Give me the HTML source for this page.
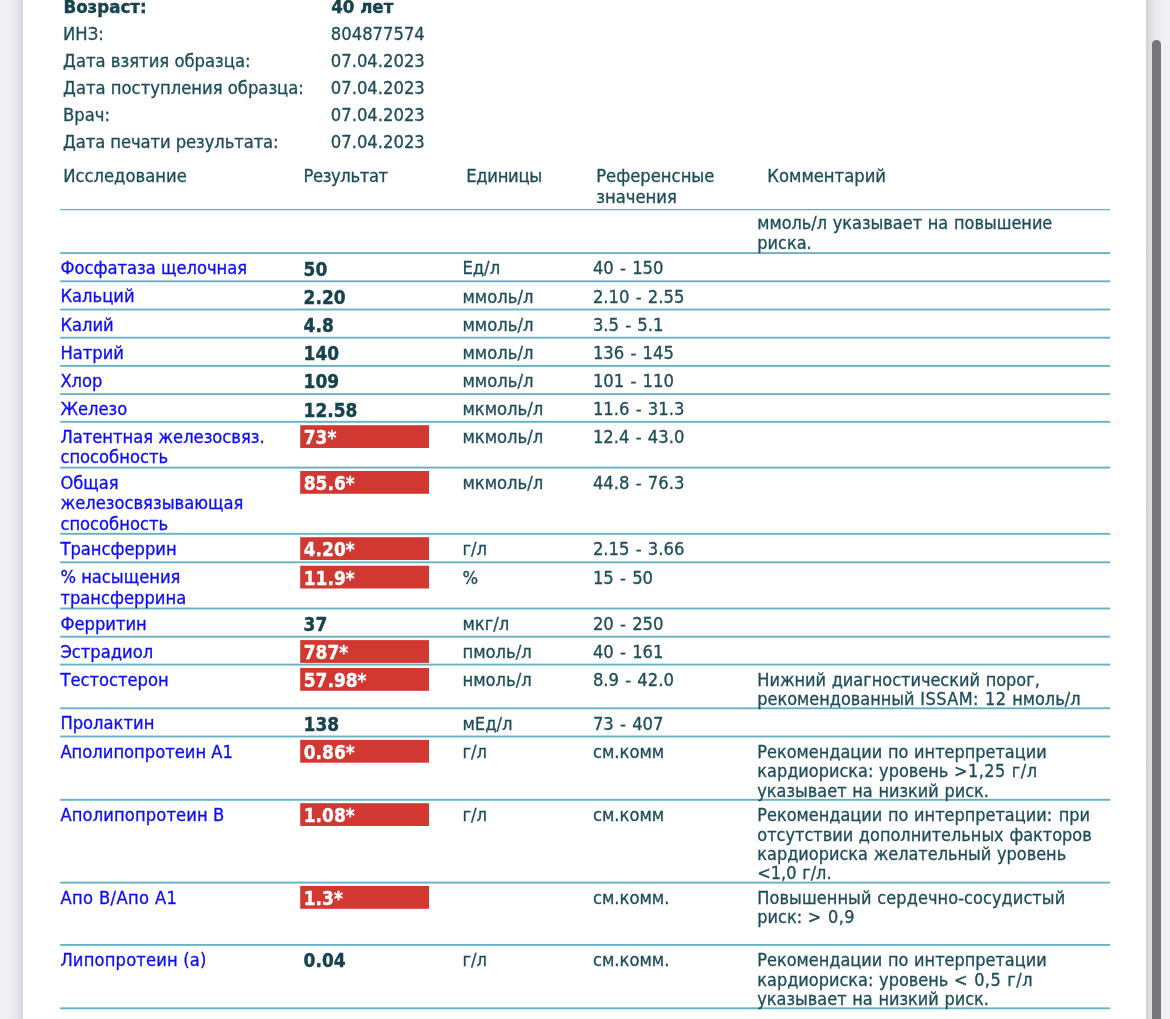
<!DOCTYPE html>
<html lang="ru"><head><meta charset="utf-8"><title>Результаты анализов</title>
<style>
html,body{margin:0;padding:0}
body{width:1170px;height:1019px;overflow:hidden;position:relative;background:#efeff4;
font-family:"DejaVu Sans Condensed","DejaVu Sans","Liberation Sans",sans-serif;font-stretch:condensed;font-size:18.25px;color:#1d4d59}
#shl{position:absolute;left:0;top:0;width:23px;height:1019px;background:linear-gradient(to right,#f0f0f5 0%,#efeff4 35%,#e9e9ee 65%,#dedee3 88%,#d3d3d8 100%)}
#shr{position:absolute;left:1146px;top:0;width:24px;height:1019px;background:linear-gradient(to right,#cfcfd4 0%,#dcdce1 15%,#e8e8ed 35%,#eeeef3 60%,#f0f0f5 100%)}
#page{position:absolute;left:23px;top:0;width:1123.5px;height:1019px;background:#fff}
#sb{position:absolute;left:1152px;top:40px;width:9px;height:1000px;border-radius:5px;background:#77777a}
.t{position:absolute;white-space:nowrap;line-height:20px;-webkit-text-stroke:0.3px #1d4d59}
#c{position:absolute;left:0;top:0;width:1170px;height:1019px;will-change:transform}
.b{font-weight:bold;font-size:18.5px;color:#17434e;-webkit-text-stroke:0.4px #17434e}
.n{color:#0c0cfa;font-size:18.2px;-webkit-text-stroke:0.3px #0c0cfa}
.r{font-size:18.9px}
.c{font-size:17.95px;word-spacing:0.6px}
.f{word-spacing:1px}
.ls{letter-spacing:0.45px}
.w{color:#fff;-webkit-text-stroke:0.35px #fff}
#g{position:absolute;left:0;top:0}
</style></head><body>
<div id="shl"></div><div id="page"></div><div id="shr"></div><div id="sb"></div>
<svg id="g" width="1170" height="1019" viewBox="0 0 1170 1019"><rect x="60.2" y="208.95" width="1049.9" height="1.3" fill="#66b1c2"/><rect x="60.2" y="252.15" width="1049.9" height="1.9" fill="#66b1c2"/><rect x="60.2" y="280.35" width="1049.9" height="1.9" fill="#66b1c2"/><rect x="60.2" y="308.55" width="1049.9" height="1.9" fill="#66b1c2"/><rect x="60.2" y="336.75" width="1049.9" height="1.9" fill="#66b1c2"/><rect x="60.2" y="364.95" width="1049.9" height="1.9" fill="#66b1c2"/><rect x="60.2" y="393.15" width="1049.9" height="1.9" fill="#66b1c2"/><rect x="60.2" y="420.85" width="1049.9" height="1.9" fill="#66b1c2"/><rect x="60.2" y="466.65" width="1049.9" height="1.9" fill="#66b1c2"/><rect x="60.2" y="532.85" width="1049.9" height="1.9" fill="#66b1c2"/><rect x="60.2" y="561.35" width="1049.9" height="1.9" fill="#66b1c2"/><rect x="60.2" y="607.55" width="1049.9" height="1.9" fill="#66b1c2"/><rect x="60.2" y="635.75" width="1049.9" height="1.9" fill="#66b1c2"/><rect x="60.2" y="663.65" width="1049.9" height="1.9" fill="#66b1c2"/><rect x="60.2" y="707.35" width="1049.9" height="1.9" fill="#66b1c2"/><rect x="60.2" y="735.55" width="1049.9" height="1.9" fill="#66b1c2"/><rect x="60.2" y="798.85" width="1049.9" height="1.9" fill="#66b1c2"/><rect x="60.2" y="881.65" width="1049.9" height="1.9" fill="#66b1c2"/><rect x="60.2" y="943.95" width="1049.9" height="1.9" fill="#66b1c2"/><rect x="60.2" y="1007.35" width="1049.9" height="1.9" fill="#66b1c2"/><rect x="300.2" y="425.2" width="128.8" height="22.8" fill="#d23832"/><rect x="300.2" y="471.0" width="128.8" height="22.8" fill="#d23832"/><rect x="300.2" y="537.2" width="128.8" height="22.8" fill="#d23832"/><rect x="300.2" y="565.7" width="128.8" height="22.8" fill="#d23832"/><rect x="300.2" y="640.1" width="128.8" height="22.8" fill="#d23832"/><rect x="300.2" y="668.0" width="128.8" height="22.8" fill="#d23832"/><rect x="300.2" y="739.9" width="128.8" height="22.8" fill="#d23832"/><rect x="300.2" y="803.2" width="128.8" height="22.8" fill="#d23832"/><rect x="300.2" y="886.0" width="128.8" height="22.8" fill="#d23832"/></svg>
<div id="c">
<div class="t b" style="left:63.5px;top:-3px">Возраст:</div>
<div class="t b" style="left:331.2px;top:-3px">40 лет</div>
<div class="t" style="left:63.1px;top:24px">ИНЗ:</div>
<div class="t" style="left:330.8px;top:24px">804877574</div>
<div class="t" style="left:63.1px;top:51px">Дата взятия образца:</div>
<div class="t" style="left:330.8px;top:51px">07.04.2023</div>
<div class="t" style="left:63.1px;top:78px">Дата поступления образца:</div>
<div class="t" style="left:330.8px;top:78px">07.04.2023</div>
<div class="t" style="left:63.1px;top:105px">Врач:</div>
<div class="t" style="left:330.8px;top:105px">07.04.2023</div>
<div class="t" style="left:63.1px;top:132px"><span style="letter-spacing:-0.1px">Дата печати результата:</span></div>
<div class="t" style="left:330.8px;top:132px">07.04.2023</div>
<div class="t" style="left:63.2px;top:166px">Исследование</div>
<div class="t" style="left:303.4px;top:166px"><span style="letter-spacing:-0.38px">Результат</span></div>
<div class="t" style="left:466.2px;top:166px"><span style="letter-spacing:-0.3px">Единицы</span></div>
<div class="t" style="left:596.2px;top:166px">Референсные</div>
<div class="t" style="left:596.2px;top:187px">значения</div>
<div class="t" style="left:767.3px;top:166px">Комментарий</div>
<div class="t c" style="left:757.3px;top:213px">ммоль/л указывает на повышение</div>
<div class="t c" style="left:757.3px;top:233px">риска.</div>
<div class="t n" style="left:60.4px;top:258px">Фосфатаза щелочная</div>
<div class="t b r" style="left:303.6px;top:259px">50</div>
<div class="t" style="left:462.4px;top:258px">Ед/л</div>
<div class="t f" style="left:592.9px;top:258px">40 - 150</div>
<div class="t n" style="left:60.4px;top:286px">Кальций</div>
<div class="t b r" style="left:303.6px;top:287px">2.20</div>
<div class="t" style="left:462.4px;top:287px">ммоль/л</div>
<div class="t f" style="left:592.9px;top:287px">2.10 - 2.55</div>
<div class="t n" style="left:60.4px;top:315px">Калий</div>
<div class="t b r" style="left:303.6px;top:315px">4.8</div>
<div class="t" style="left:462.4px;top:315px">ммоль/л</div>
<div class="t f" style="left:592.9px;top:315px">3.5 - 5.1</div>
<div class="t n" style="left:60.4px;top:343px">Натрий</div>
<div class="t b r" style="left:303.6px;top:343px">140</div>
<div class="t" style="left:462.4px;top:343px">ммоль/л</div>
<div class="t f" style="left:592.9px;top:343px">136 - 145</div>
<div class="t n" style="left:60.4px;top:371px">Хлор</div>
<div class="t b r" style="left:303.6px;top:371px">109</div>
<div class="t" style="left:462.4px;top:371px">ммоль/л</div>
<div class="t f" style="left:592.9px;top:371px">101 - 110</div>
<div class="t n" style="left:60.4px;top:399px">Железо</div>
<div class="t b r" style="left:303.6px;top:400px">12.58</div>
<div class="t" style="left:462.4px;top:399px">мкмоль/л</div>
<div class="t f" style="left:592.9px;top:399px">11.6 - 31.3</div>
<div class="t n" style="left:60.4px;top:427px">Латентная железосвяз.</div>
<div class="t n" style="left:60.4px;top:447px">способность</div>
<div class="t b r w" style="left:303.8px;top:427px">73*</div>
<div class="t" style="left:462.4px;top:427px">мкмоль/л</div>
<div class="t f" style="left:592.9px;top:427px">12.4 - 43.0</div>
<div class="t n" style="left:60.4px;top:473px">Общая</div>
<div class="t n" style="left:60.4px;top:493px">железосвязывающая</div>
<div class="t n" style="left:60.4px;top:514px">способность</div>
<div class="t b r w" style="left:303.8px;top:473px">85.6*</div>
<div class="t" style="left:462.4px;top:473px">мкмоль/л</div>
<div class="t f" style="left:592.9px;top:473px">44.8 - 76.3</div>
<div class="t n" style="left:60.4px;top:539px">Трансферрин</div>
<div class="t b r w" style="left:303.8px;top:539px">4.20*</div>
<div class="t" style="left:462.4px;top:539px">г/л</div>
<div class="t f" style="left:592.9px;top:539px">2.15 - 3.66</div>
<div class="t n" style="left:60.4px;top:567px">% насыщения</div>
<div class="t n" style="left:60.4px;top:588px">трансферрина</div>
<div class="t b r w" style="left:303.8px;top:568px">11.9*</div>
<div class="t" style="left:462.4px;top:568px">%</div>
<div class="t f" style="left:592.9px;top:568px">15 - 50</div>
<div class="t n" style="left:60.4px;top:614px">Ферритин</div>
<div class="t b r" style="left:303.6px;top:614px">37</div>
<div class="t" style="left:462.4px;top:614px">мкг/л</div>
<div class="t f" style="left:592.9px;top:614px">20 - 250</div>
<div class="t n" style="left:60.4px;top:642px">Эстрадиол</div>
<div class="t b r w" style="left:303.8px;top:642px">787*</div>
<div class="t" style="left:462.4px;top:642px">пмоль/л</div>
<div class="t f" style="left:592.9px;top:642px">40 - 161</div>
<div class="t n" style="left:60.4px;top:670px">Тестостерон</div>
<div class="t b r w" style="left:303.8px;top:670px">57.98*</div>
<div class="t" style="left:462.4px;top:670px">нмоль/л</div>
<div class="t f" style="left:592.9px;top:670px">8.9 - 42.0</div>
<div class="t c" style="left:757.3px;top:670px">Нижний диагностический порог,</div>
<div class="t c" style="left:757.3px;top:689px">рекомендованный <span class="ls">ISSAM: 12</span> нмоль/л</div>
<div class="t n" style="left:60.4px;top:713px">Пролактин</div>
<div class="t b r" style="left:303.6px;top:714px">138</div>
<div class="t" style="left:462.4px;top:714px">мЕд/л</div>
<div class="t f" style="left:592.9px;top:714px">73 - 407</div>
<div class="t n" style="left:60.4px;top:742px">Аполипопротеин A1</div>
<div class="t b r w" style="left:303.8px;top:742px">0.86*</div>
<div class="t" style="left:462.4px;top:742px">г/л</div>
<div class="t f" style="left:592.9px;top:742px">см.комм</div>
<div class="t c" style="left:757.3px;top:742px">Рекомендации по интерпретации</div>
<div class="t c" style="left:757.3px;top:761px">кардиориска: уровень <span class="ls">&gt;1,25 г/л</span></div>
<div class="t c" style="left:757.3px;top:781px">указывает на низкий риск.</div>
<div class="t n" style="left:60.4px;top:805px"><span style="letter-spacing:0.12px">Аполипопротеин B</span></div>
<div class="t b r w" style="left:303.8px;top:805px">1.08*</div>
<div class="t" style="left:462.4px;top:805px">г/л</div>
<div class="t f" style="left:592.9px;top:805px">см.комм</div>
<div class="t c" style="left:757.3px;top:805px">Рекомендации по интерпретации<span class="ls">: </span>при</div>
<div class="t c" style="left:757.3px;top:825px">отсутствии дополнительных факторов</div>
<div class="t c" style="left:757.3px;top:844px">кардиориска желательный уровень</div>
<div class="t c" style="left:757.3px;top:863px">&lt;1,0 г/л.</div>
<div class="t n" style="left:60.4px;top:888px"><span style="letter-spacing:0.36px">Апо B/Апо A1</span></div>
<div class="t b r w" style="left:303.8px;top:888px">1.3*</div>
<div class="t f" style="left:592.9px;top:888px">см.комм.</div>
<div class="t c" style="left:757.3px;top:888px"><span style="letter-spacing:0.09px">Повышенный сердечно-сосудистый</span></div>
<div class="t c" style="left:757.3px;top:907px">риск: <span class="ls">&gt; 0,9</span></div>
<div class="t n" style="left:60.4px;top:950px"><span style="letter-spacing:0.17px">Липопротеин (a)</span></div>
<div class="t b r" style="left:303.6px;top:950px">0.04</div>
<div class="t" style="left:462.4px;top:950px">г/л</div>
<div class="t f" style="left:592.9px;top:950px">см.комм.</div>
<div class="t c" style="left:757.3px;top:950px">Рекомендации по интерпретации</div>
<div class="t c" style="left:757.3px;top:970px">кардиориска: уровень <span class="ls">&lt; 0,5 г/л</span></div>
<div class="t c" style="left:757.3px;top:989px">указывает на низкий риск.</div>
</div>
</body></html>
